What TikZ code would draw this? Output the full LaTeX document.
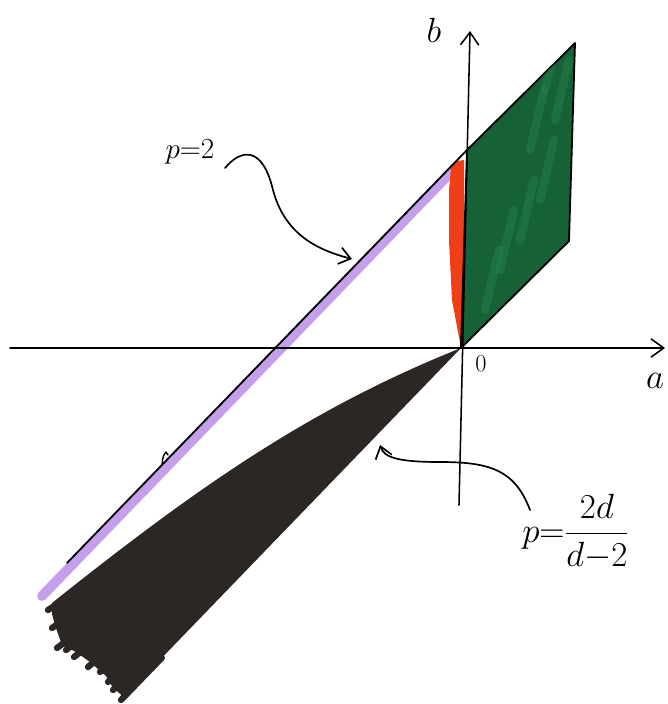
\documentclass[tikz,border=0pt]{standalone}
\usetikzlibrary{arrows.meta,calc}
\definecolor{mossgreen}{RGB}{22,98,54}
\definecolor{leafgreen}{RGB}{44,140,82}
\definecolor{lilac}{RGB}{196,160,236}
\definecolor{redorange}{RGB}{240,62,22}
\definecolor{inkblack}{RGB}{44,38,36}
\begin{document}
\begin{tikzpicture}[x=0.025cm, y=-0.025cm, line cap=round, line join=round,
    pen/.style={line width=1.3pt, draw=black},
    axis/.style={line width=1.1pt, -{Straight Barb[length=9pt,width=13pt]}},
    pointer/.style={line width=1.2pt, -{Straight Barb[length=8pt,width=12pt]}},
    hand/.style={font=\fontsize{#1}{#1}\selectfont, inner sep=0pt}]
  \useasboundingbox (0,0) rectangle (667,704);

  % points of the picture
  \coordinate (O) at (461,348);
  \coordinate (bTop) at (467,150);
  \coordinate (gTop) at (575,43);
  \coordinate (gBot) at (569,241);
  \coordinate (lineEnd) at (67,563);
  \coordinate (aLeft) at (10,348);
  \coordinate (aRight) at (665,348);
  \coordinate (bLow) at (459,505);
  \coordinate (bHigh) at (470,31);

  % black region p > 2d/(d-2)
  \fill[inkblack] (O) .. controls (311,408) and (200,485) .. (52,603)
    -- (52,614) -- (56,628) -- (62,645) -- (76,652) -- (90,662)
    -- (106,676) -- (113,688) -- (124,697) -- cycle;
  \foreach \x/\y/\f in {48/610/0.10,52/628/0.12,57/648/0.14,66/650/0.08,
      74/657/0.10,88/667/0.12,100/672/0.08,108/682/0.10,113/690/0.09,121/700/0.12}
    \draw[inkblack, line width=4.5pt] (\x,\y) -- ($(\x,\y)!\f!(O)$);

  % p = 2 line with its lilac band
  \draw[lilac, line width=7pt] (455,168) -- (42,596);
  \fill[redorange] (O) -- (452,300) -- (449,240) -- (449,190) -- (451,168)
    -- (457,161) -- (464,160) -- (464,348) -- cycle;
  \filldraw[fill=mossgreen, pen] (O) -- (bTop) -- (gTop) -- (gBot) -- cycle;
  \begin{scope}
    \clip (O) -- (bTop) -- (gTop) -- (gBot) -- cycle;
    \foreach \x/\y in {485/310,500/270,520/240,540/200,530/150,555/120,545/90}
      \draw[leafgreen, line width=6pt, opacity=0.35] (\x,\y) -- ++(14,-60);
  \end{scope}
  \draw[pen] (bTop) -- (lineEnd);
  \draw[pen, line width=1pt] (162,465) .. controls (163,456) .. (166,452) -- (168,455);

  % axes
  \draw[axis] (aLeft) -- (aRight);
  \draw[axis] (bLow) -- (bHigh);
  \node[hand=34] (bLabel) at (434,30) {$b$};
  \node[hand=32] (aLabel) at (655,381) {$a$};
  \node[hand=19] (zero) at (481,364) {$0$};

  % labels and their pointers
  \node[hand=20] (pTwo) at (190,152) {$p{=}2$};
  \coordinate (pTwoTip) at (352,259);
  \draw[pointer] (225,168) .. controls (240,150) and (262,144) .. (273,190)
    .. controls (285,235) and (318,250) .. (pTwoTip);
  \node[hand=29, anchor=base west] (pCrit) at (522,542)
    {$p{=}\displaystyle\frac{2d}{d{-}2}$};
  \coordinate (pCritTip) at (380,445);
  \draw[pointer] (530,510) .. controls (515,470) and (490,462) .. (440,462)
    .. controls (400,462) and (384,458) .. (pCritTip);
\end{tikzpicture}
\end{document}
